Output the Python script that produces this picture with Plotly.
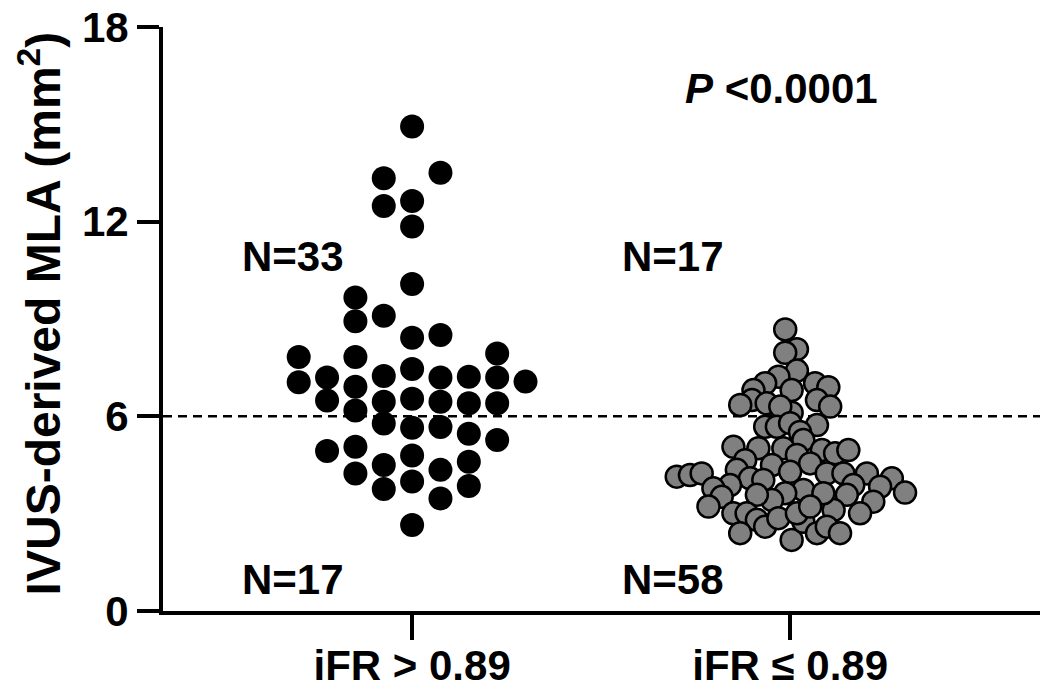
import plotly.graph_objs as go

# iFR > 0.89 : MLA values and the swarm column each dot sits in
g1_mla = [14.93, 12.64, 11.85, 10.08, 8.42, 7.46, 6.54, 5.65, 4.79, 3.99, 2.65,
          13.51, 8.51, 7.20, 6.45, 5.67, 4.35, 3.47,
          13.34, 12.48, 9.10, 7.24, 6.45, 5.78, 4.50, 3.76,
          9.66, 8.93, 7.83, 6.91, 6.18, 5.06, 4.24,
          7.20, 6.49, 4.93,
          7.83, 7.05,
          7.22, 6.40, 5.46, 4.60, 3.85,
          7.94, 7.20, 6.40, 5.27,
          7.07]
g1_slot = [0] * 11 + [1] * 7 + [-1] * 8 + [-2] * 7 + [-3] * 3 + [-4] * 2 \
    + [2] * 5 + [3] * 4 + [4] * 1

# iFR <= 0.89 : MLA values and horizontal jitter (category units)
g2_mla = [8.68, 8.07, 7.96, 7.41, 7.22, 7.02, 6.81, 6.50, 6.81, 7.02, 6.90, 6.50,
          6.30, 6.40, 6.11, 6.30, 6.35, 5.68, 5.68, 5.79, 5.73, 5.52, 5.27, 5.06,
          5.02, 5.02, 4.81, 4.96, 4.86, 4.96, 4.65, 4.50, 4.55, 4.14, 4.19, 4.24,
          4.35, 4.09, 4.04, 4.29, 4.24, 4.24, 4.24, 4.09, 3.65, 3.83, 3.88, 3.58,
          3.37, 3.01, 3.11, 3.73, 3.63, 3.63, 3.42, 3.58, 3.88, 3.78, 3.52, 3.22,
          3.01, 3.01, 2.81, 2.60, 2.40, 2.86, 2.19, 2.75, 2.40, 2.60, 2.40, 3.01,
          3.22]
g2_jitter = [-0.013, 0.018, -0.013, 0.018, -0.031, -0.066, -0.097, -0.101, 0.004,
             0.066, 0.101, 0.071, 0.106, -0.062, 0.004, -0.026, -0.132, -0.066,
             -0.035, 0.000, 0.071, 0.026, 0.035, -0.150, -0.084, -0.018, 0.018,
             0.084, 0.119, 0.154, -0.119, -0.048, 0.053, -0.300, -0.265, -0.234,
             -0.141, -0.106, -0.071, 0.000, 0.097, 0.141, 0.203, 0.269, 0.304,
             0.238, 0.167, 0.150, 0.220, 0.185, 0.115, 0.035, 0.088, -0.013,
             -0.048, -0.088, -0.159, -0.203, -0.181, -0.216, -0.150, -0.115,
             -0.088, -0.066, -0.132, -0.031, 0.004, 0.035, 0.071, 0.097, 0.132,
             0.018, 0.053]

groups = ["iFR > 0.89", "iFR ≤ 0.89"]
y_ticks = [0, 6, 12, 18]
cutoff = 6
counts = [("N=33", -0.455, 10.94), ("N=17", -0.455, 0.96),
          ("N=17", 0.55, 10.94), ("N=58", 0.55, 0.96)]
p_text = "<i>P</i> <0.0001"

COLUMN_PITCH = 0.075
FONT = "Arial, Liberation Sans, sans-serif"

fig = go.Figure()

fig.add_trace(go.Scatter(
    x=[0 + s * COLUMN_PITCH for s in g1_slot], y=g1_mla,
    mode="markers",
    marker=dict(size=24, color="black", line=dict(width=0)),
    showlegend=False, hoverinfo="y"))

fig.add_trace(go.Scatter(
    x=[1 + j for j in g2_jitter], y=g2_mla,
    mode="markers",
    marker=dict(size=22, color="#808080", line=dict(width=2.5, color="black")),
    showlegend=False, hoverinfo="y"))

# 6 mm2 cut-off
fig.add_shape(type="line", xref="paper", x0=0, x1=1, yref="y",
              y0=cutoff, y1=cutoff,
              line=dict(color="black", width=2.5, dash="9px,6px"), layer="below")

for txt, xx, yy in counts:
    fig.add_annotation(x=xx, y=yy, text="<b>" + txt + "</b>", showarrow=False,
                       xanchor="left", yanchor="middle",
                       font=dict(family=FONT, size=42, color="black"))

fig.add_annotation(x=0.717, y=16.12, text="<b>" + p_text + "</b>",
                   showarrow=False, xanchor="left", yanchor="middle",
                   font=dict(family=FONT, size=42, color="black"))

# y-axis title placed by hand so the plot area stays fixed
fig.add_annotation(xref="paper", yref="paper", x=-0.14, y=0.51,
                   text="<b>IVUS-derived MLA (mm<sup>2</sup>)</b>",
                   textangle=-90, showarrow=False,
                   xanchor="center", yanchor="middle",
                   font=dict(family=FONT, size=48, color="black"))

# the page body adds an 8px offset, so margins are trimmed by that much
fig.update_layout(
    width=1050, height=691,
    margin=dict(l=155, r=18, t=19, b=88),
    paper_bgcolor="white", plot_bgcolor="white",
    font=dict(family=FONT, color="black"),
    xaxis=dict(range=[-0.659, 1.661], showgrid=False, zeroline=False,
               automargin=False,
               showline=True, linecolor="black", linewidth=4,
               ticks="outside", ticklen=25, tickwidth=4, tickcolor="black",
               ticklabelstandoff=-10, ticklabeloverflow="allow",
               tickvals=[0, 1], ticktext=["<b>%s</b>" % g for g in groups],
               tickfont=dict(family=FONT, size=42, color="black")),
    yaxis=dict(range=[0, 18], showgrid=False, zeroline=False,
               automargin=False,
               showline=True, linecolor="black", linewidth=4,
               ticks="outside", ticklen=22, tickwidth=4, tickcolor="black",
               ticklabeloverflow="allow",
               tickvals=y_ticks, ticktext=["<b>%d</b>" % t for t in y_ticks],
               tickfont=dict(family=FONT, size=42, color="black")),
)

fig.write_html("out.html")
